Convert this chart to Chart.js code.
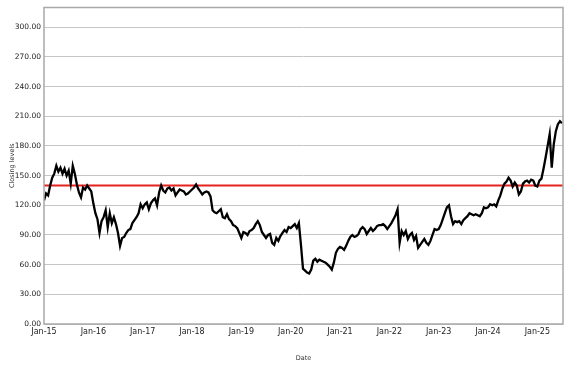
<!DOCTYPE html>
<html>
<head>
<meta charset="utf-8">
<script src="https://cdn.jsdelivr.net/npm/chart.js@4.4.1/dist/chart.umd.min.js"></script>
<style>
    html, body { margin: 0; padding: 0; background: #fff; }
    #wrap { width: 577px; height: 367px; }
</style>
</head>
<body>
<div id="wrap"><canvas id="closingChart"></canvas></div>
<script>
const close2015 = [125, 132, 130, 140, 148, 152, 160, 154, 158, 152, 157, 150, 155, 142, 160, 152, 141, 133, 128, 138, 136, 140, 137, 134];
const close2016 = [122, 112, 106, 92, 104, 108, 115, 98, 112, 102, 108, 101, 92, 79, 87, 88, 92, 95, 96, 102, 105, 108, 112, 121];
const close2017 = [117, 121, 123, 116, 122, 125, 127, 120, 133, 140, 135, 133, 137, 138, 135, 137, 130, 133, 136, 135, 134, 131, 132, 134];
const close2018 = [136, 138, 141, 137, 134, 131, 133, 134, 133, 129, 115, 113, 112, 114, 116, 108, 107, 111, 106, 104, 100, 99, 97, 92];
const close2019 = [87, 93, 92, 90, 94, 95, 97, 101, 104, 100, 93, 90, 87, 90, 91, 82, 80, 87, 84, 89, 92, 95, 93, 98];
const close2020 = [97, 99, 101, 97, 102, 80, 56, 54, 52, 51, 55, 64, 66, 63, 65, 64, 63, 62, 60, 58, 55, 62, 72, 76];
const close2021 = [78, 77, 75, 79, 84, 88, 90, 88, 89, 91, 96, 98, 96, 91, 94, 97, 94, 96, 99, 100, 100, 101, 99, 96];
const close2022 = [99, 102, 106, 110, 116, 82, 94, 90, 94, 86, 90, 92, 85, 89, 77, 80, 83, 86, 82, 80, 84, 90, 96, 95];
const close2023 = [96, 100, 106, 112, 118, 120, 109, 101, 104, 103, 104, 101, 105, 107, 109, 112, 111, 110, 111, 110, 109, 112, 118, 117];
const close2024 = [118, 121, 120, 121, 119, 125, 130, 137, 142, 144, 148, 145, 139, 143, 140, 131, 134, 142, 144, 145, 143, 146, 145, 140];
const close2025 = [139, 145, 147, 157, 168, 180, 192, 158, 182, 195, 202, 205, 203];

const firstYear = 2015;
const lastDate = 2025.52;
const thresholdLevel = 140;
const xTickYears = [2015, 2016, 2017, 2018, 2019, 2020, 2021, 2022, 2023, 2024, 2025];
const yTickValues = [0, 30, 60, 90, 120, 150, 180, 210, 240, 270, 300];

const yearlyCloses = [close2015, close2016, close2017, close2018, close2019, close2020,
    close2021, close2022, close2023, close2024, close2025];

// turn the yearly arrays into x/y points (x in years)
const closePoints = [];
yearlyCloses.forEach(function(values, k) {
    values.forEach(function(v, i) {
        closePoints.push({ x: firstYear + k + i / 24, y: v });
    });
});

const thresholdPoints = [
    { x: firstYear, y: thresholdLevel },
    { x: lastDate, y: thresholdLevel }
];

// box around the plot area
const plotBox = {
    id: 'plotBox',
    afterDatasetsDraw(chart) {
        const a = chart.chartArea;
        const ctx = chart.ctx;
        ctx.save();
        ctx.strokeStyle = '#a9a9a9';
        ctx.lineWidth = 1.5;
        ctx.strokeRect(a.left, a.top, a.right - a.left, a.bottom - a.top);
        ctx.restore();
    }
};

const ctx = document.getElementById('closingChart').getContext('2d');
new Chart(ctx, {
    type: 'line',
    data: {
        datasets: [{
            label: 'Closing levels',
            data: closePoints,
            borderColor: '#000000',
            borderWidth: 2.3,
            pointRadius: 0,
            tension: 0
        }, {
            label: 'Level',
            data: thresholdPoints,
            borderColor: '#e5231f',
            borderWidth: 2,
            pointRadius: 0
        }]
    },
    options: {
        responsive: true,
        maintainAspectRatio: false,
        animation: false,
        layout: {
            padding: { left: 0, right: 14, top: 3, bottom: 0 }
        },
        plugins: {
            legend: { display: false },
            tooltip: { enabled: false }
        },
        scales: {
            x: {
                type: 'linear',
                min: firstYear,
                max: lastDate,
                afterBuildTicks: function(axis) {
                    axis.ticks = xTickYears.map(v => ({ value: v }));
                },
                afterFit: function(axis) {
                    axis.height = 43;
                },
                grid: { display: false, drawTicks: false },
                border: { display: false },
                ticks: {
                    padding: 3,
                    maxRotation: 0,
                    autoSkip: false,
                    color: '#222',
                    font: { family: 'DejaVu Sans', size: 8 },
                    callback: v => 'Jan-' + String(v).slice(2)
                },
                title: {
                    display: true,
                    text: 'Date',
                    color: '#333',
                    font: { family: 'DejaVu Sans', size: 6.5 },
                    padding: { top: 0, bottom: 5 }
                }
            },
            y: {
                min: 0,
                max: 320,
                afterBuildTicks: function(axis) {
                    axis.ticks = yTickValues.map(v => ({ value: v }));
                },
                afterFit: function(axis) {
                    axis.width = 44;
                },
                grid: { color: '#c6c6c6', lineWidth: 1, drawTicks: false },
                border: { display: false },
                ticks: {
                    padding: 3,
                    color: '#222',
                    font: { family: 'DejaVu Sans', size: 7.5 },
                    callback: v => v.toFixed(2)
                },
                title: {
                    display: true,
                    text: 'Closing levels',
                    color: '#333',
                    font: { family: 'DejaVu Sans', size: 6.5 },
                    padding: { top: 8, bottom: 0 }
                }
            }
        }
    },
    plugins: [plotBox]
});
</script>
</body>
</html>
